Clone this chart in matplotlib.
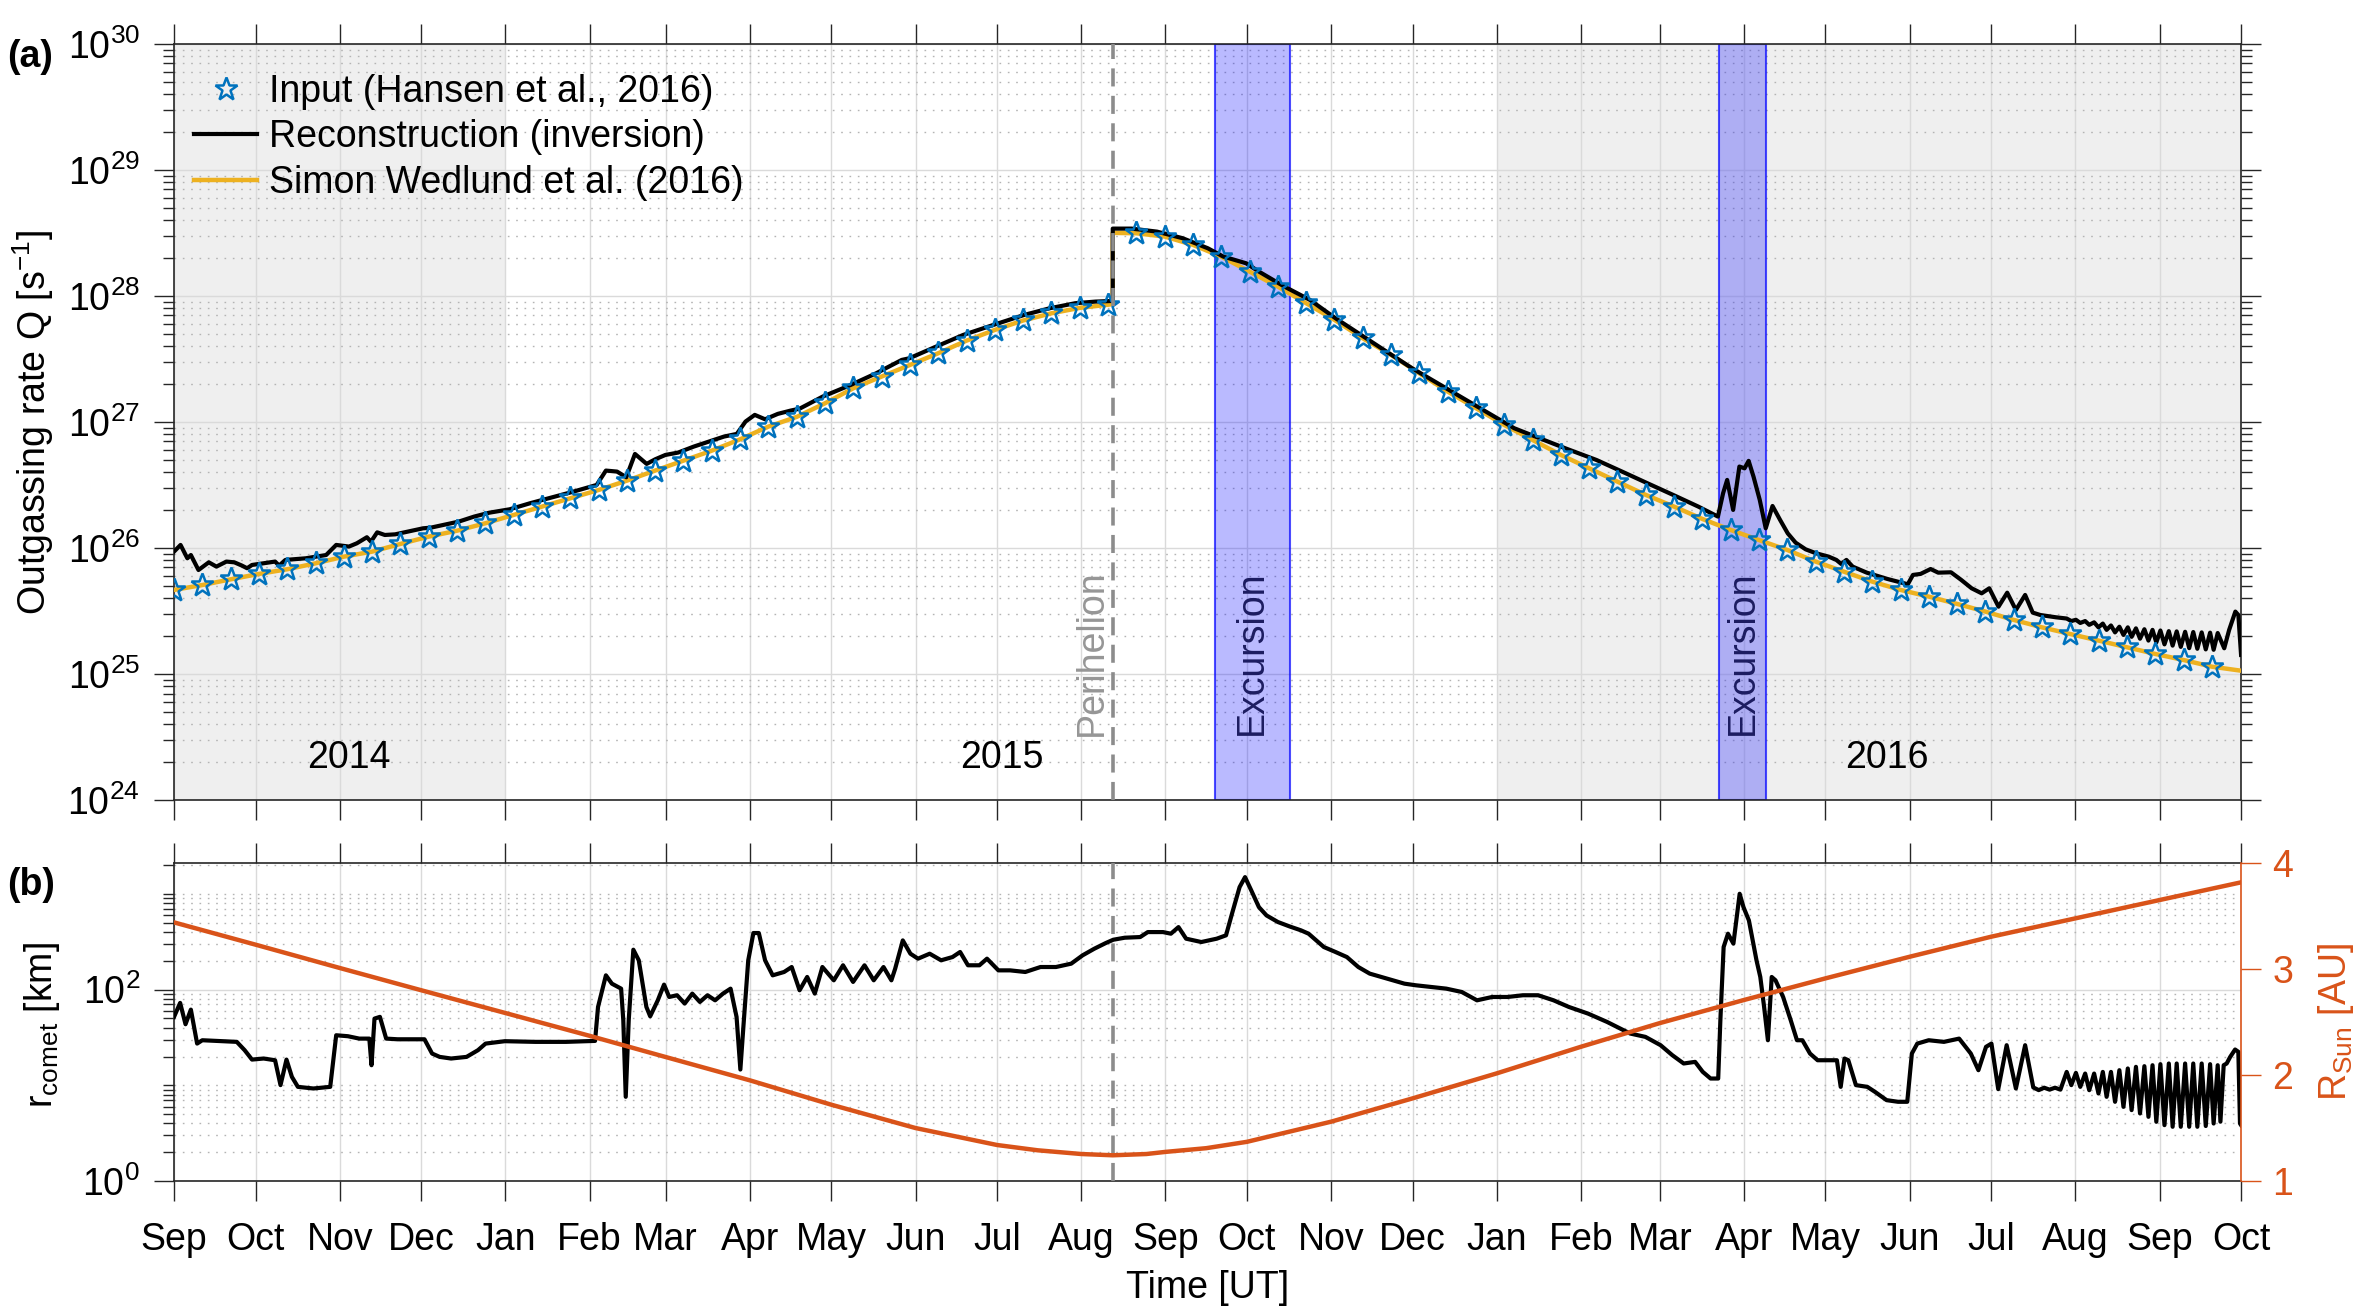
# -*- coding: utf-8 -*-
"""
Outgassing rate Q and r_comet / R_Sun along the Rosetta trajectory (2014-2016)
"""
from datetime import datetime

import matplotlib
matplotlib.use('Agg')
import matplotlib.pyplot as plt
import matplotlib.dates as mdates
import matplotlib.ticker as ticker
from matplotlib.lines import Line2D
import numpy as np

plt.rcParams['font.family'] = ['Liberation Sans', 'DejaVu Sans']
plt.rcParams['mathtext.fontset'] = 'custom'
plt.rcParams['mathtext.rm'] = 'Liberation Sans'
plt.rcParams['mathtext.it'] = 'Liberation Sans:italic'
plt.rcParams['mathtext.bf'] = 'Liberation Sans:bold'

# ── data (days since 2014-09-01, log10 values) ──
T_START = datetime(2014, 9, 1)
T_END_DAY = 761.0
PERIHELION_DAY = 345.6
YEAR_SHADE = [(0.0, 122.0), (487.0, 761.0)]
EXCURSIONS = [(383.2, 410.8), (568.9, 586.2)]
YEAR_LABELS = ['2014', '2015', '2016']
YEAR_LABEL_DAYS = [64.3, 304.7, 630.6]

# input (Hansen et al., 2016): one sample every 10.42 days
STAR_STEP = 10.42
star_logq = [25.667, 25.706, 25.751, 25.794, 25.831, 25.878, 25.931, 25.971,
             26.032, 26.090, 26.137, 26.196, 26.262, 26.328, 26.394, 26.460,
             26.534, 26.614, 26.693, 26.772, 26.862, 26.963, 27.040,
             27.148, 27.267, 27.360, 27.452, 27.545, 27.645, 27.730, 27.805,
             27.862, 27.905, 27.930,
             28.497, 28.471, 28.405, 28.312, 28.193, 28.074, 27.942, 27.810,
             27.664, 27.532, 27.386, 27.241, 27.109, 26.976, 26.857,
             26.738, 26.632, 26.526, 26.421, 26.328, 26.230, 26.143, 26.063,
             25.984, 25.892, 25.812, 25.733, 25.667, 25.614, 25.556, 25.495,
             25.429, 25.370, 25.317, 25.265, 25.212, 25.159, 25.111, 25.058]
N_PRE = 34                       # samples before perihelion
wedlund_jump = [27.935, 28.500]  # Simon Wedlund model at perihelion (pre, post)
wedlund_end = 25.026

# reconstruction (inversion)
rec_days = [0.0, 2.4, 4.9, 6.2, 9.0, 12.8, 15.6, 19.3, 22.2, 25.0, 26.9, 28.7,
            37.2, 38.7, 41.0, 48.5, 56.0, 59.7, 64.4, 67.3, 71.0, 72.5, 74.8,
            77.6, 81.4, 86.1, 91.7, 94.5, 99.2, 104.8, 110.5, 116.1, 123.6,
            131.1, 138.7, 146.2, 155.6, 159.0, 163.1, 166.5, 169.7, 174.0,
            177.2, 180.9, 185.6, 191.3, 196.9, 202.5, 207.2, 210.4, 213.8,
            217.6, 222.3, 227.0, 230.3, 234.1, 238.8, 249.1, 258.5, 267.9,
            270.7, 279.2, 290.5, 301.7, 313.0, 322.4, 331.8, 339.3, 345.6,
            345.6, 352.5, 361.9, 371.3, 380.6, 386.3, 394.7, 399.4, 408.8,
            418.2, 427.6, 437.0, 446.4, 455.8, 465.2, 474.6, 484.0, 493.4,
            502.8, 512.2, 523.7, 533.1, 542.5, 551.9, 561.2, 568.4, 570.3,
            571.8, 574.0, 576.3, 578.2, 579.7, 581.5, 583.8, 586.0, 588.5,
            591.3, 594.1, 597.0, 600.7, 604.5, 609.2, 612.0, 613.8, 615.7,
            618.0, 623.2, 630.8, 638.3, 640.2, 643.0, 646.7, 649.5, 654.2,
            658.0, 661.8, 665.5, 668.3, 671.7, 674.9, 678.1, 681.5, 684.3,
            687.1, 692.8,
            696.8, 698.5, 700.2, 701.8, 703.6, 705.1, 706.9, 708.5, 710.1,
            711.5, 713.1, 714.6, 716.2, 717.7, 719.3, 720.7, 722.3, 723.8,
            725.4, 726.9, 728.4, 729.8, 731.3, 732.8, 734.4, 735.8, 737.3,
            738.8, 740.4, 741.9, 743.4, 744.9, 746.5, 748.0, 749.6, 750.9,
            752.4, 754.8, 756.6, 758.9, 760.0, 761.0]
rec_logq = [25.971, 26.024, 25.918, 25.944, 25.825, 25.886, 25.852, 25.892,
            25.886, 25.860, 25.839, 25.865, 25.892, 25.860, 25.905, 25.918,
            25.944, 26.024, 26.011, 26.037, 26.085, 26.050, 26.124, 26.103,
            26.108, 26.130, 26.156, 26.161, 26.183, 26.209, 26.249, 26.280,
            26.307, 26.355, 26.399, 26.442, 26.500, 26.614, 26.606, 26.561,
            26.746, 26.667, 26.704, 26.738, 26.757, 26.804, 26.844, 26.884,
            26.905, 27.003, 27.056, 27.021, 27.064, 27.090, 27.105, 27.148,
            27.201, 27.293, 27.386, 27.492, 27.505, 27.585, 27.690, 27.770,
            27.849, 27.902, 27.942, 27.955, 27.960,
            28.534, 28.534, 28.510, 28.458, 28.378, 28.312, 28.259, 28.193,
            28.074, 27.968, 27.823, 27.690, 27.558, 27.426, 27.307, 27.188,
            27.069, 26.950, 26.870, 26.791, 26.698, 26.606, 26.513, 26.421,
            26.328, 26.249, 26.434, 26.540, 26.302, 26.646, 26.632, 26.691,
            26.566, 26.381, 26.156, 26.333, 26.222, 26.116, 26.042, 25.989,
            25.958, 25.931, 25.905, 25.873, 25.905, 25.852, 25.804, 25.754,
            25.712, 25.786, 25.794, 25.833, 25.804, 25.807, 25.746, 25.680,
            25.640, 25.680, 25.534, 25.645, 25.508, 25.627, 25.487, 25.468,
            25.450,
            25.440, 25.420, 25.430, 25.405, 25.420, 25.390, 25.410, 25.370,
            25.400, 25.350, 25.385, 25.330, 25.375, 25.310, 25.370, 25.295,
            25.362, 25.280, 25.355, 25.265, 25.350, 25.250, 25.345, 25.235,
            25.340, 25.225, 25.338, 25.215, 25.335, 25.205, 25.333, 25.200,
            25.330, 25.195, 25.328, 25.192, 25.325, 25.204, 25.349, 25.495,
            25.468, 25.151]

# cometocentric distance r_comet (log10 km)
r_days = [0.0, 2.25, 4.23, 6.2, 8.5, 10.4, 17.5, 23.1, 26.0, 28.7, 33.0, 37.2,
          39.2, 41.4, 43.4, 45.6, 51.3, 57.5, 59.7, 64.0, 68.2, 71.9, 72.7,
          73.8, 75.8, 78.1, 82.3, 92.2, 95.0, 97.8, 102.0, 107.7, 111.9,
          114.7, 121.8, 133.0, 144.3, 155.0, 156.1, 159.0, 161.2, 164.6,
          165.4, 166.3, 167.4, 169.1, 171.1, 173.9, 175.3, 178.1, 180.4,
          182.3, 185.2, 188.0, 190.8, 193.6, 196.4, 199.2, 202.1, 204.9,
          207.1, 208.5, 209.7, 211.4, 213.3, 215.3, 217.6, 220.4, 224.6,
          227.4, 230.3, 233.1, 235.9, 238.7, 242.9, 246.3, 250.0, 254.2,
          257.6, 261.2, 264.1, 265.5, 268.3, 271.1, 273.9, 278.2, 282.4,
          286.6, 289.4, 292.3, 296.5, 299.3, 303.5, 307.8, 313.4, 319.0,
          324.7, 330.3, 334.5, 338.8, 343.0, 345.8, 350.0, 355.7, 358.5,
          364.1, 367.0, 369.8, 372.6, 378.2, 383.9, 387.3, 389.5, 392.3,
          394.3, 396.6, 399.4, 402.2, 406.4, 410.7, 414.9, 417.7, 420.5,
          423.3, 427.6, 431.8, 436.0, 440.2, 444.5, 448.7, 453.0, 457.2,
          462.8, 468.4, 474.1, 479.7, 485.3, 491.0, 496.6, 502.2, 507.9,
          513.5, 520.6, 527.6, 536.1, 541.7, 547.3, 551.6, 555.8, 560.0,
          562.8, 565.7, 568.5, 569.3, 570.5, 572.1, 574.1, 576.4, 577.8,
          579.8, 582.6, 584.0, 585.4, 586.8, 588.2, 589.6, 592.4, 595.2,
          597.5, 599.5, 602.3, 605.1, 609.4, 612.2, 613.6, 615.0, 616.4,
          619.2, 623.4, 626.2, 630.5, 634.7, 638.1, 639.8, 641.8, 646.0,
          651.6, 657.2, 661.5, 664.3, 667.1, 669.1, 671.6, 674.7, 678.1,
          681.5, 684.5, 686.5, 688.5, 690.5, 692.5, 694.5,
          696.8, 698.5, 700.2, 701.8, 703.6, 705.1, 706.9, 708.5, 710.1,
          711.5, 713.1, 714.6, 716.2, 717.7, 719.3, 720.7, 722.3, 723.8,
          725.4, 726.9, 728.4, 729.8, 731.3, 732.8, 734.4, 735.8, 737.3,
          738.8, 740.4, 741.9, 743.4, 744.9, 746.5, 748.0, 749.6, 750.9,
          752.4, 753.4, 754.6, 755.7, 757.0, 758.8, 760.0, 760.6, 761.0]
r_log = [1.715, 1.861, 1.638, 1.791, 1.436, 1.471, 1.461, 1.454, 1.367, 1.269,
         1.280, 1.262, 1.002, 1.269, 1.088, 0.984, 0.967, 0.984, 1.523, 1.513,
         1.488, 1.488, 1.210, 1.697, 1.715, 1.488, 1.481, 1.481, 1.332, 1.297,
         1.280, 1.297, 1.367, 1.436, 1.461, 1.454, 1.454, 1.464, 1.819, 2.149,
         2.062, 2.010, 1.680, 0.880, 1.680, 2.417, 2.306, 1.819, 1.721, 1.888,
         2.052, 1.923, 1.941, 1.854, 1.958, 1.871, 1.941, 1.888, 1.958, 2.010,
         1.715, 1.165, 1.645, 2.306, 2.591, 2.591, 2.306, 2.149, 2.184, 2.236,
         1.993, 2.132, 1.958, 2.236, 2.097, 2.254, 2.080, 2.254, 2.097, 2.236,
         2.097, 2.219, 2.514, 2.375, 2.323, 2.375, 2.306, 2.340, 2.393, 2.254,
         2.254, 2.323, 2.201, 2.201, 2.184, 2.236, 2.236, 2.271, 2.358, 2.427,
         2.486, 2.521, 2.542, 2.549, 2.601, 2.601, 2.584, 2.653, 2.532, 2.497,
         2.532, 2.567, 2.793, 3.071, 3.175, 3.036, 2.862, 2.775, 2.706, 2.660,
         2.619, 2.584, 2.514, 2.445, 2.393, 2.340, 2.236, 2.167, 2.132, 2.097,
         2.062, 2.045, 2.027, 2.010, 1.975, 1.888, 1.923, 1.923, 1.941, 1.941,
         1.888, 1.819, 1.749, 1.662, 1.541, 1.506, 1.419, 1.315, 1.228, 1.245,
         1.141, 1.071, 1.071, 1.680, 2.445, 2.584, 2.480, 3.001, 2.862, 2.723,
         2.306, 2.132, 1.819, 1.471, 2.132, 2.097, 1.923, 1.680, 1.471, 1.471,
         1.332, 1.262, 1.262, 1.262, 0.984, 1.280, 1.262, 1.002, 0.984, 0.932,
         0.845, 0.828, 0.828, 1.332, 1.436, 1.471, 1.454, 1.488, 1.332, 1.158,
         1.402, 1.436, 0.960, 1.419, 0.967, 1.419, 0.978, 0.950, 0.975, 0.955,
         0.975, 0.955,
         1.140, 1.002, 1.130, 0.984, 1.123, 0.949, 1.123, 0.915, 1.140, 0.880,
         1.140, 0.828, 1.158, 0.775, 1.176, 0.741, 1.193, 0.706, 1.200, 0.671,
         1.210, 0.619, 1.221, 0.584, 1.228, 0.567, 1.228, 0.567, 1.228, 0.567,
         1.228, 0.567, 1.228, 0.575, 1.221, 0.601, 1.210, 0.620, 1.210, 1.228,
         1.297, 1.374, 1.350, 0.601, 0.584]

# heliocentric distance R_Sun [AU]
rsun_days = [0, 30, 61, 91, 122, 153, 181, 212, 242, 273, 303, 318, 334,
             345.6, 358, 365, 380, 395, 426, 456, 487, 518, 547, 578, 608,
             639, 669, 700, 731, 761]
rsun_au = [3.44, 3.23, 3.01, 2.80, 2.585, 2.37, 2.17, 1.95, 1.72, 1.50, 1.34,
           1.29, 1.255, 1.243, 1.255, 1.275, 1.31, 1.37, 1.56, 1.78, 2.016,
           2.267, 2.49, 2.708, 2.912, 3.116, 3.305, 3.478, 3.651, 3.818]

# ── styles ──
C_STAR = '#0072BD'
C_WEDL = '#EDB120'
C_RSUN = '#D95319'
C_AX = '#262626'
FS = 27

T0 = mdates.date2num(T_START)


def tnum(days):
    return T0 + np.asarray(days, dtype=float)


star_days = np.arange(len(star_logq)) * STAR_STEP
star_q = 10.0 ** np.array(star_logq)
wed_days = np.concatenate([star_days[:N_PRE], [PERIHELION_DAY, PERIHELION_DAY],
                           star_days[N_PRE:], [T_END_DAY]])
wed_q = 10.0 ** np.concatenate([star_logq[:N_PRE], wedlund_jump,
                                star_logq[N_PRE:], [wedlund_end]])
rec_q = 10.0 ** np.array(rec_logq)
r_km = 10.0 ** np.array(r_log)

fig = plt.figure(figsize=(23.71, 13.13), dpi=100)
ax1 = fig.add_axes([0.0734, 0.3907, 0.8718, 0.5759])
ax2 = fig.add_axes([0.0734, 0.1005, 0.8718, 0.2422])


def base_style(ax):
    ax.set_axisbelow(True)
    ax.set_xlim(tnum(0), tnum(T_END_DAY))
    ax.xaxis.set_major_locator(mdates.MonthLocator())
    ax.xaxis.set_major_formatter(mdates.DateFormatter('%b'))
    ax.grid(True, which='major', axis='both', color='#dadada', lw=1.0, ls='-')
    ax.grid(True, which='minor', axis='y', color='#b4b4b4', lw=1.0, ls=(0, (1.2, 4.8)))
    for sp in ax.spines.values():
        sp.set_color(C_AX)
        sp.set_linewidth(1.2)
    ax.tick_params(axis='both', which='major', direction='out', length=14.5,
                   width=1.0, color=C_AX, labelsize=FS, top=True)
    ax.tick_params(axis='y', which='minor', direction='out', length=8,
                   width=1.0, color=C_AX)
    ax.tick_params(axis='x', pad=15)
    ax.tick_params(axis='y', pad=10)
    ax.axvline(tnum(PERIHELION_DAY), color='#8c8c8c', lw=2.6,
               ls=(0, (5, 2.6)), zorder=6)


# ── (a) outgassing rate ──
for d0, d1 in YEAR_SHADE:
    ax1.axvspan(tnum(d0), tnum(d1), color='#efefef', lw=0, zorder=0.2)
for d0, d1 in EXCURSIONS:
    ax1.axvspan(tnum(d0), tnum(d1), facecolor=(0, 0, 1, 0.27),
                edgecolor=(0, 0, 1, 0.7), lw=1.5, zorder=1.5)
    ax1.text(tnum(0.5 * (d0 + d1)), 10 ** 25.17, 'Excursion', rotation=90,
             ha='center', va='center', fontsize=FS, color='#1c1c60', zorder=7)

ax1.set_yscale('log')
ax1.set_ylim(1e24, 1e30)
ax1.yaxis.set_major_locator(ticker.LogLocator(base=10, numticks=10))
ax1.yaxis.set_minor_locator(ticker.LogLocator(base=10, subs=np.arange(2, 10), numticks=20))
ax1.yaxis.set_minor_formatter(ticker.NullFormatter())
base_style(ax1)
ax1.tick_params(axis='y', which='both', right=True)
ax1.tick_params(axis='x', labelbottom=False)

ax1.plot(tnum(wed_days), wed_q, color=C_WEDL, lw=3.2, zorder=3)
ax1.plot(tnum(rec_days), rec_q, color='black', lw=3.0, zorder=4)
ax1.plot(tnum(star_days), star_q, ls='none', marker='*', ms=17, mfc='none',
         mec=C_STAR, mew=1.8, zorder=5)

ax1.text(tnum(PERIHELION_DAY - 1.0), 10 ** 25.17, 'Perihelion', rotation=90,
         ha='right', va='center', fontsize=FS, color='#969696', zorder=7)
for lab, d in zip(YEAR_LABELS, YEAR_LABEL_DAYS):
    ax1.text(tnum(d), 10 ** 24.33, lab, ha='center', va='center', fontsize=FS)

handles = [Line2D([], [], ls='none', marker='*', ms=17, mfc='none', mec=C_STAR, mew=1.8),
           Line2D([], [], color='black', lw=3.0),
           Line2D([], [], color=C_WEDL, lw=3.2)]
labels = ['Input (Hansen et al., 2016)', 'Reconstruction (inversion)',
          'Simon Wedlund et al. (2016)']
ax1.legend(handles, labels, loc='upper left', bbox_to_anchor=(0.0095, 0.960),
           frameon=False, fontsize=FS, borderpad=0, borderaxespad=0,
           handlelength=1.7, handletextpad=0.3, labelspacing=0.25)

# ── (b) r_comet and R_Sun ──
ax2.set_yscale('log')
ax2.set_ylim(1, 2100)
ax2.yaxis.set_major_locator(ticker.FixedLocator([1, 100]))
ax2.yaxis.set_major_formatter(ticker.LogFormatterSciNotation())
minor_r = [k * 10 ** e for e in range(0, 4) for k in range(1, 10)
           if k * 10 ** e not in (1, 100) and k * 10 ** e <= 2100]
ax2.yaxis.set_minor_locator(ticker.FixedLocator(minor_r))
ax2.yaxis.set_minor_formatter(ticker.NullFormatter())
base_style(ax2)
ax2.spines['right'].set_visible(False)
ax2.tick_params(axis='y', which='both', right=False)
ax2.plot(tnum(r_days), r_km, color='black', lw=3.0, zorder=4)

ax2r = ax2.twinx()
ax2r.set_ylim(1, 4)
ax2r.set_yticks([1, 2, 3, 4])
ax2r.plot(tnum(rsun_days), rsun_au, color=C_RSUN, lw=3.2)
for k in ('left', 'top', 'bottom'):
    ax2r.spines[k].set_visible(False)
ax2r.spines['right'].set_color(C_RSUN)
ax2r.spines['right'].set_linewidth(1.2)
ax2r.tick_params(axis='y', direction='out', length=14.5, width=1.0, color=C_RSUN,
                 labelcolor=C_RSUN, labelsize=FS, pad=8)

# ── labels ──
fig.text(0.0139, 0.6786, 'Outgassing rate Q [s$^{-1}$]', rotation=90,
         ha='center', va='center', fontsize=FS)
fig.text(0.0177, 0.2193, 'r$_{\\mathrm{comet}}$ [km]', rotation=90,
         ha='center', va='center', fontsize=FS)
fig.text(0.9853, 0.2219, 'R$_{\\mathrm{Sun}}$ [AU]', rotation=90,
         ha='center', va='center', fontsize=FS, color=C_RSUN)
fig.text(0.5094, 0.019, 'Time [UT]', ha='center', va='center', fontsize=FS)
fig.text(0.003, 0.9566, '(a)', ha='left', va='center', fontsize=FS, fontweight='bold')
fig.text(0.003, 0.3263, '(b)', ha='left', va='center', fontsize=FS, fontweight='bold')

fig.savefig('out.png', dpi=100, facecolor='white')
print('saved out.png')
